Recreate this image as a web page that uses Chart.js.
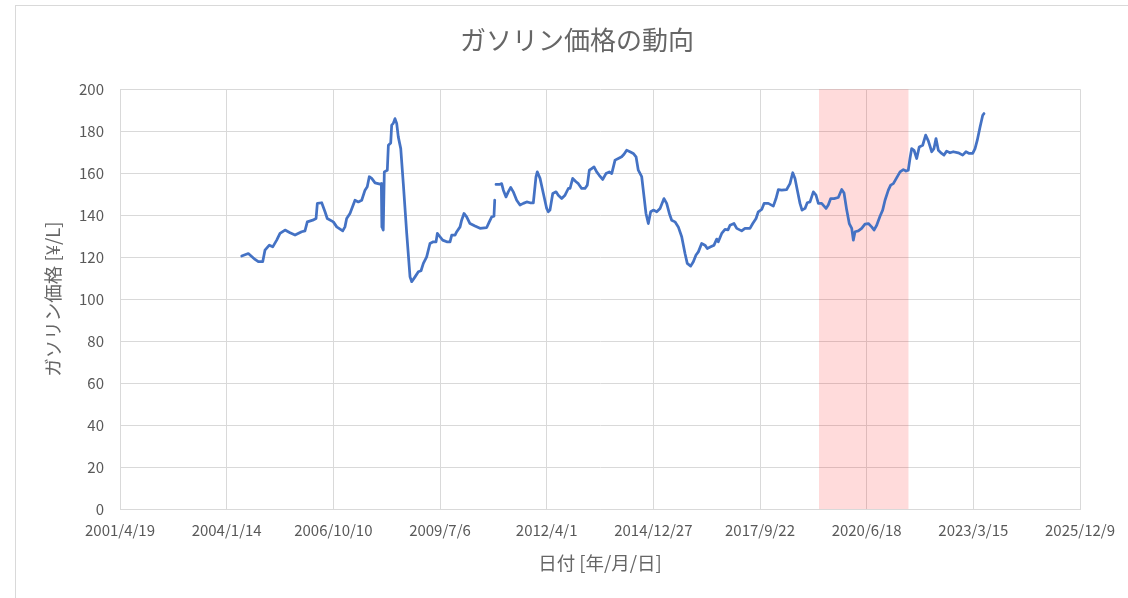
<!DOCTYPE html>
<html>
<head>
<meta charset="utf-8">
<title>ガソリン価格の動向</title>
<style>
html, body { margin: 0; padding: 0; background: #fff; overflow: hidden; }
#frame { position: absolute; left: 15px; top: 5px; width: 1130px; height: 600px; border: 1px solid #d9d9d9; }
canvas { display: block; }
</style>
</head>
<body>
<div id="frame"><canvas id="gas-chart" width="1130" height="600"></canvas></div>
<script src="https://cdn.jsdelivr.net/npm/chart.js"></script>
<script>
// dates are Excel serial numbers (days since 1899/12/30), prices in yen per litre
var days = [38141,38203,38266,38297,38338,38359,38400,38432,38469,38500,38547,38594,38641,38703,38734,38756,38807,38838,38850,38891,
  38922,38943,39000,39032,39088,39109,39125,39156,39203,39234,39266,39297,39318,39337,39360,39391,39438,39450,39455,39468,
  39478,39506,39516,39538,39547,39562,39578,39594,39609,39632,39656,39688,39719,39735,39766,39797,39822,39844,39875,39906,
  39937,39963,39975,40000,40025,40063,40094,40110,40141,40157,40188,40203,40225,40250,40281,40328,40375,40438,40462,40485,
  40506,40513,40519,40525,40556,40578,40594,40619,40640,40663,40687,40719,40750,40781,40813,40844,40875,40900,40912,40938,
  40969,41000,41015,41031,41057,41088,41109,41141,41172,41203,41219,41244,41275,41297,41328,41359,41381,41400,41422,41444,
  41469,41493,41525,41556,41587,41610,41641,41672,41703,41725,41750,41781,41812,41838,41859,41891,41913,41931,41953,41975,
  42000,42032,42063,42100,42125,42150,42172,42203,42234,42266,42297,42318,42350,42375,42400,42422,42453,42484,42506,42538,
  42569,42594,42609,42641,42672,42700,42719,42756,42782,42828,42859,42906,42932,42963,42984,43016,43038,43078,43125,43150,
  43172,43203,43250,43281,43307,43328,43350,43375,43394,43422,43443,43469,43500,43525,43547,43578,43619,43640,43663,43694,
  43734,43766,43788,43813,43837,43860,43875,43891,43922,43953,43984,44016,44047,44069,44094,44125,44150,44172,44203,44225,
  44250,44282,44313,44344,44369,44390,44406,44422,44444,44469,44493,44525,44553,44578,44610,44631,44650,44672,44703,44725,
  44750,44781,44812,44859,44900,44931,44962,44994,45016,45037,45063,45088,45100];
var prices = [120.5,121.7,118.9,117.8,117.8,123.3,125.7,124.9,128.1,131.3,132.9,131.6,130.5,132.1,132.5,136.8,137.6,138.4,145.6,145.9,
  141.6,138.4,136.8,134.4,132.5,134.4,138.4,140.8,147.1,146.3,147.1,151.9,153.5,158.3,157.5,155.4,154.8,155.0,134.4,132.9,
  160.6,161.4,173.3,174.4,182.9,183.7,186.0,183.7,177.3,171.7,155.0,131.3,110.6,108.3,110.6,113.0,113.5,117.0,120.1,126.5,
  127.3,127.3,131.3,129.7,128.1,127.3,127.3,130.5,130.5,132.1,134.4,137.6,140.8,139.2,136.0,134.8,133.7,134.1,136.8,139.2,
  139.5,147.1,null,154.6,154.6,155.0,151.9,148.7,151.1,153.2,151.1,147.1,144.8,145.6,146.3,145.9,145.9,158.3,160.6,157.5,
  150.3,143.2,141.6,142.4,150.3,151.1,149.5,147.9,149.5,152.7,152.7,157.5,155.9,155.0,152.7,152.7,154.3,161.4,162.2,163.0,
  160.6,159.0,157.0,159.8,160.6,159.8,166.2,167.0,167.8,169.0,170.9,170.2,169.4,167.8,161.4,158.3,148.7,140.8,136.0,141.6,
  142.4,141.6,143.2,147.9,145.6,140.8,137.6,136.8,134.4,129.7,121.7,117.0,115.7,117.8,121.0,122.5,126.5,125.7,124.1,124.9,
  125.7,128.6,127.3,131.3,133.2,133.0,135.2,136.0,133.7,132.5,133.7,133.7,136.0,138.4,141.6,142.7,145.6,145.6,144.3,147.9,
  152.2,151.9,152.2,155.0,160.2,157.5,151.9,145.6,142.4,143.2,145.9,146.3,151.1,149.5,145.6,145.6,143.2,144.8,147.9,147.9,
  148.4,152.2,150.5,142.4,136.0,133.7,128.1,132.1,132.5,133.7,135.7,136.0,134.4,132.9,135.2,139.5,142.4,147.1,151.9,154.3,
  155.0,157.9,160.6,161.7,161.0,161.4,167.0,171.7,170.9,167.0,172.5,173.3,178.1,175.4,170.2,171.7,176.5,170.9,169.4,168.6,
  170.5,169.7,170.2,169.7,168.6,170.2,169.4,169.4,171.7,175.7,182.0,187.6,188.4];

// shaded period
var shadeStart = 43553;
var shadeEnd = 44392;

// axis ranges
var xMin = 37000, xMax = 46000, xStep = 1000;
var yMin = 0, yMax = 200, yStep = 20;

var gray = '#595959';
var titleGray = '#666666';
var gridGray = '#d9d9d9';
var fontFamily = "'Noto Sans CJK JP', 'Noto Sans', sans-serif";

function serialToLabel(serial) {
    var d = new Date(Date.UTC(1899, 11, 30) + serial * 86400000);
    return d.getUTCFullYear() + '/' + (d.getUTCMonth() + 1) + '/' + d.getUTCDate();
}

var points = days.map(function (day, i) {
    return { x: day, y: prices[i] };
});

var shadePlugin = {
    id: 'shade',
    beforeDatasetsDraw: function (chart) {
        var xs = chart.scales.x;
        var area = chart.chartArea;
        var ctx = chart.ctx;
        var x1 = xs.getPixelForValue(shadeStart);
        var x2 = xs.getPixelForValue(shadeEnd);
        ctx.save();
        ctx.fillStyle = 'rgba(255, 0, 0, 0.14)';
        ctx.fillRect(x1, area.top, x2 - x1, area.bottom - area.top);
        ctx.restore();
    }
};

var ctx = document.getElementById('gas-chart');
var gasChart = new Chart(ctx, {
    type: 'line',
    data: {
        datasets: [{
            label: 'ガソリン価格',
            data: points,
            borderColor: '#4472c4',
            borderWidth: 2.75,
            pointRadius: 0,
            tension: 0,
            spanGaps: false,
            borderJoinStyle: 'round',
            borderCapStyle: 'round'
        }]
    },
    options: {
        responsive: false,
        animation: false,
        devicePixelRatio: 1,
        layout: { padding: { left: 58, right: 66, top: 0, bottom: 0 } },
        plugins: {
            legend: { display: false },
            tooltip: { enabled: false },
            title: {
                display: true,
                text: 'ガソリン価格の動向',
                color: titleGray,
                font: { family: fontFamily, size: 26, weight: 'normal' },
                padding: { top: 19, bottom: 33 }
            }
        },
        scales: {
            x: {
                type: 'linear',
                min: xMin,
                max: xMax,
                afterFit: function (scale) { scale.height = 97; },
                grid: { color: gridGray, drawTicks: false },
                border: { color: gridGray },
                ticks: {
                    stepSize: xStep,
                    autoSkip: false,
                    maxRotation: 0,
                    padding: 12,
                    color: gray,
                    font: { family: fontFamily, size: 15 },
                    callback: function (value) { return serialToLabel(value); }
                },
                title: {
                    display: true,
                    text: '日付 [年/月/日]',
                    color: titleGray,
                    font: { family: fontFamily, size: 18.5 },
                    padding: { bottom: 32 }
                }
            },
            y: {
                min: yMin,
                max: yMax,
                afterFit: function (scale) { scale.width = 46; },
                grid: { color: gridGray, drawTicks: false },
                border: { color: gridGray },
                ticks: {
                    stepSize: yStep,
                    padding: 16,
                    color: gray,
                    font: { family: fontFamily, size: 15 }
                },
                title: {
                    display: true,
                    text: 'ガソリン価格 [¥/L]',
                    color: titleGray,
                    font: { family: fontFamily, size: 18.5 },
                    padding: { top: -32 }
                }
            }
        }
    },
    plugins: [shadePlugin]
});
</script>
</body>
</html>
